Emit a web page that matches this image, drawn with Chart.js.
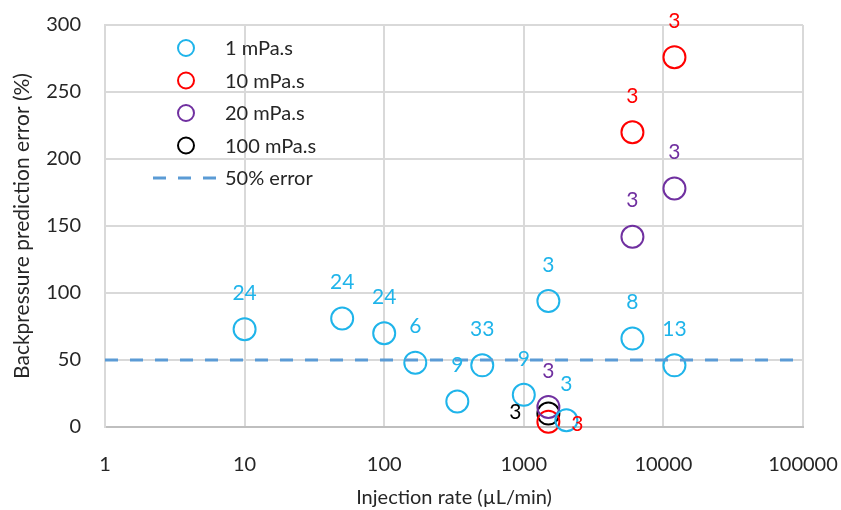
<!DOCTYPE html>
<html>
<head>
<meta charset="utf-8">
<script src="https://cdn.jsdelivr.net/npm/chart.js@4.4.1/dist/chart.umd.min.js"></script>
<style>
  html, body { margin: 0; padding: 0; background: #fff; }
  #wrap { width: 841px; height: 510px; }
</style>
</head>
<body>
<div id="wrap"><canvas id="chart"></canvas></div>
<script>
// Data
const rates1 = [10, 50, 100, 167, 334, 504, 1000, 1500, 2018, 6000, 12000];
const errors1 = [73, 81, 70, 48, 19, 46, 24, 94, 5, 66, 46];
const counts1 = ["24", "24", "24", "6", "9", "33", "9", "3", "3", "8", "13"];

const rates10 = [1500, 6000, 12000];
const errors10 = [4, 220, 276];
const counts10 = ["3", "3", "3"];

const rates20 = [1500, 6000, 12000];
const errors20 = [15, 142, 178];
const counts20 = ["3", "3", "3"];

const rates100 = [1500];
const errors100 = [10];
const counts100 = ["3"];

const limitX = [1, 100000];
const limitY = [50, 50];

const xTicks = [1, 10, 100, 1000, 10000, 100000];

// where each count label sits relative to its circle
const side1 = counts1.map(() => "above");
const side10 = ["right", "above", "above"];
const side20 = ["above", "above", "above"];
const side100 = ["left"];

const FONT = "Lato, 'Open Sans', sans-serif";

function pts(xs, ys) {
  return xs.map((x, i) => ({ x: x, y: ys[i] }));
}

function circleSet(label, xs, ys, color, counts, sides) {
  return {
    type: "scatter",
    label: label,
    data: pts(xs, ys),
    borderColor: color,
    backgroundColor: "rgba(0,0,0,0)",
    pointStyle: "circle",
    pointRadius: 11,
    pointBorderWidth: 2,
    clip: false,
    counts: counts,
    sides: sides,
  };
}

const datasets = [
  {
    type: "line",
    label: "50% error",
    data: pts(limitX, limitY),
    borderColor: "#5b9bd5",
    borderWidth: 3,
    borderDash: [13, 12],
    pointRadius: 0,
    fill: false,
  },
  circleSet("1 mPa.s", rates1, errors1, "#1fb4ea", counts1, side1),
  circleSet("20 mPa.s", rates20, errors20, "#7030a0", counts20, side20),
  circleSet("10 mPa.s", rates10, errors10, "#ff0000", counts10, side10),
  circleSet("100 mPa.s", rates100, errors100, "#000000", counts100, side100),
];

// count labels next to the circles
const countLabels = {
  id: "countLabels",
  afterDatasetsDraw(chart) {
    const ctx = chart.ctx;
    ctx.save();
    ctx.font = "21px " + FONT;
    ctx.textAlign = "center";
    ctx.textBaseline = "middle";
    chart.data.datasets.forEach((ds, di) => {
      if (!ds.counts) return;
      const meta = chart.getDatasetMeta(di);
      ctx.fillStyle = ds.borderColor;
      meta.data.forEach((p, i) => {
        let x = p.x, y = p.y - 36;
        if (ds.sides[i] === "right") { x = p.x + 29; y = p.y + 3; }
        if (ds.sides[i] === "left") { x = p.x - 33; y = p.y - 1; }
        ctx.fillText(ds.counts[i], x, y);
      });
    });
    ctx.restore();
  },
};

// legend drawn inside the plot area, top left
const innerLegend = {
  id: "innerLegend",
  afterDraw(chart) {
    const ctx = chart.ctx;
    const order = ["1 mPa.s", "10 mPa.s", "20 mPa.s", "100 mPa.s", "50% error"];
    ctx.save();
    ctx.font = "20px " + FONT;
    ctx.textBaseline = "middle";
    ctx.textAlign = "left";
    order.forEach((name, i) => {
      const ds = chart.data.datasets.find(d => d.label === name);
      const y = 48 + i * 32.5;
      if (ds.type === "line") {
        ctx.strokeStyle = ds.borderColor;
        ctx.lineWidth = 3;
        ctx.setLineDash([13, 12]);
        ctx.beginPath();
        ctx.moveTo(153, y);
        ctx.lineTo(219, y);
        ctx.stroke();
        ctx.setLineDash([]);
      } else {
        ctx.strokeStyle = ds.borderColor;
        ctx.lineWidth = 2;
        ctx.beginPath();
        ctx.arc(186, y, 8, 0, Math.PI * 2);
        ctx.stroke();
      }
      ctx.fillStyle = "#262626";
      ctx.fillText(name, 225, y + 1);
    });
    ctx.restore();
  },
};

new Chart(document.getElementById("chart").getContext("2d"), {
  data: { datasets: datasets },
  plugins: [countLabels, innerLegend],
  options: {
    responsive: true,
    maintainAspectRatio: false,
    animation: false,
    layout: { padding: { top: 25, right: 38, bottom: 0, left: 0 } },
    plugins: {
      legend: { display: false },
      tooltip: { enabled: false },
    },
    scales: {
      x: {
        type: "logarithmic",
        min: 1,
        max: 100000,
        afterBuildTicks(axis) {
          axis.ticks = xTicks.map(v => ({ value: v }));
        },
        afterFit(axis) { axis.height = 83; },
        ticks: {
          callback: v => String(v),
          color: "#262626",
          font: { family: FONT, size: 20 },
          padding: 0,
          maxRotation: 0,
        },
        grid: {
          color: "#d9d9d9",
          lineWidth: 2,
          drawTicks: true,
          tickLength: 26,
          tickColor: "rgba(0,0,0,0)",
        },
        border: { color: "#bfbfbf", width: 2 },
        title: {
          display: true,
          text: "Injection rate (µL/min)",
          color: "#262626",
          font: { family: FONT, size: 20 },
          padding: { top: 4, bottom: 0 },
        },
      },
      y: {
        min: 0,
        max: 300,
        afterFit(axis) { axis.width = 105; },
        ticks: {
          stepSize: 50,
          color: "#262626",
          font: { family: FONT, size: 20 },
          padding: 0,
        },
        grid: {
          color: "#d9d9d9",
          lineWidth: 2,
          drawTicks: true,
          tickLength: 24,
          tickColor: "rgba(0,0,0,0)",
        },
        border: { color: "#d9d9d9", width: 2 },
        title: {
          display: true,
          text: "Backpressure prediction error (%)",
          color: "#262626",
          font: { family: FONT, size: 21 },
          padding: { top: 10, bottom: 6 },
        },
      },
    },
  },
});
</script>
</body>
</html>
